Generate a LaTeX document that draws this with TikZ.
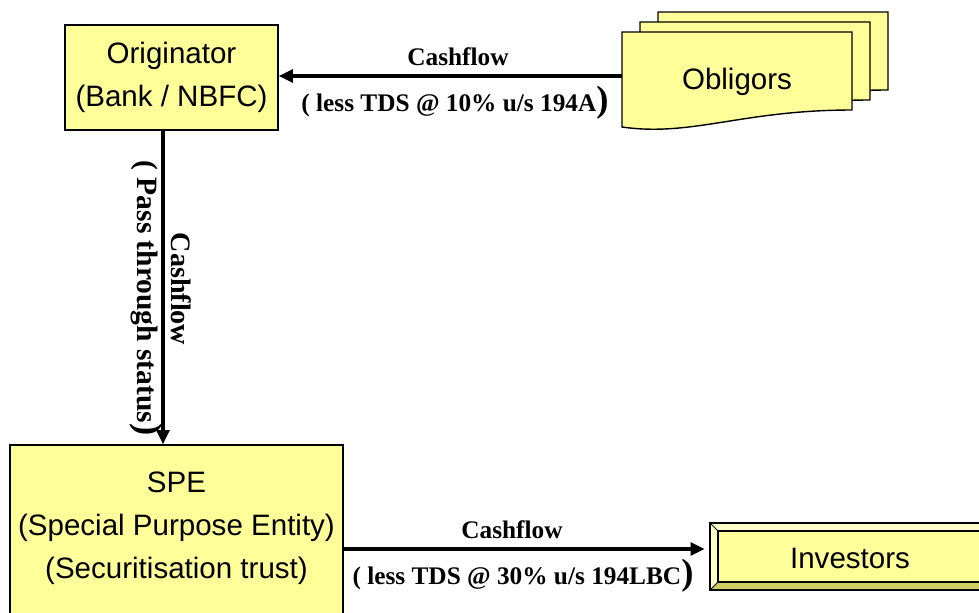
\documentclass[tikz,border=0pt]{standalone}
\usepackage{fontspec}
\setmainfont{Liberation Serif}
\newfontfamily\boxfont{Liberation Sans}
\usetikzlibrary{arrows.meta}

\definecolor{boxyellow}{HTML}{FFFF99}
\definecolor{bevellight}{HTML}{FFFFC8}
\definecolor{beveldark}{HTML}{CDCD62}

\tikzset{
    entity/.style={draw=black, line width=1pt, fill=boxyellow, align=center, inner sep=0pt,
        font=\boxfont\fontsize{21}{30.5}\selectfont},
    flow/.style={line width=2.2pt, -{Triangle[length=10pt,width=9pt]}},
    flowlabel/.style={inner sep=0pt, font=\bfseries\fontsize{18}{20}\selectfont},
    sidelabel/.style={inner sep=0pt, rotate=-90, font=\bfseries\fontsize{20}{22}\selectfont},
}
\newcommand{\tallparen}{{\fontsize{26}{26}\selectfont)}}
\newcommand{\obligordoc}[2]{%
    \draw[line width=1pt, fill=boxyellow] (#1,#2) -- (#1+230,#2) -- (#1+230,#2+78)
        .. controls (#1+120,#2+78) and (#1+70,#2+105) .. (#1,#2+95) -- cycle;}

\begin{document}
\begin{tikzpicture}[x=0.025cm, y=-0.025cm]
    \clip (0,0) rectangle (979,612);

    \obligordoc{658}{12}
    \obligordoc{640}{22}
    \obligordoc{622}{32}
    \node[inner sep=0pt, minimum width=230*0.025cm, minimum height=88*0.025cm,
        font=\boxfont\fontsize{21}{30}\selectfont] (obl) at (737,82) {Obligors};

    \node[entity, minimum width=213*0.025cm, minimum height=105*0.025cm] (orig) at (171.5,77.5)
        {Originator\\(Bank / NBFC)};
    \node[entity, minimum width=333*0.025cm, minimum height=207*0.025cm] (spe) at (176.5,548.5)
        {SPE\\(Special Purpose Entity)\\(Securitisation trust)\\[-6pt]\strut};

    \fill[beveldark] (710,523) rectangle (1000,590);
    \fill[bevellight] (710,523) -- (1000,523) -- (992,531) -- (718,531) -- (718,582) -- (710,590) -- cycle;
    \draw[line width=1pt, fill=boxyellow] (718,531) rectangle (992,582);
    \draw[line width=1pt] (710,523) rectangle (1000,590);
    \draw[line width=0.6pt] (710,523) -- (718,531) (710,590) -- (718,582);
    \node[inner sep=0pt, minimum width=290*0.025cm, minimum height=67*0.025cm,
        font=\boxfont\fontsize{21}{30}\selectfont] (inv) at (850,558) {Investors};

    \coordinate (passx) at (163,0);
    \coordinate (toprow) at (0,76);
    \coordinate (botrow) at (0,549);

    \draw[flow] (obl.west |- toprow) -- (orig.east |- toprow);
    \draw[flow] (orig.south -| passx) -- (spe.north -| passx);
    \draw[flow] (spe.east |- botrow) -- (inv.west |- botrow);

    \node[flowlabel] (topcash) at (458,57) {Cashflow};
    \node[flowlabel] (toptds) at (455,103) {( less TDS @ 10\% u/s 194A\tallparen};
    \node[sidelabel] (sidecash) at (181,289) {Cashflow};
    \node[sidelabel, font=\bfseries\fontsize{21}{22}\selectfont] (sidepass) at (146,298)
        {( Pass through status\tallparen};
    \node[flowlabel] (botcash) at (512,530) {Cashflow};
    \node[flowlabel] (bottds) at (523,576) {( less TDS @ 30\% u/s 194LBC\tallparen};
\end{tikzpicture}
\end{document}
